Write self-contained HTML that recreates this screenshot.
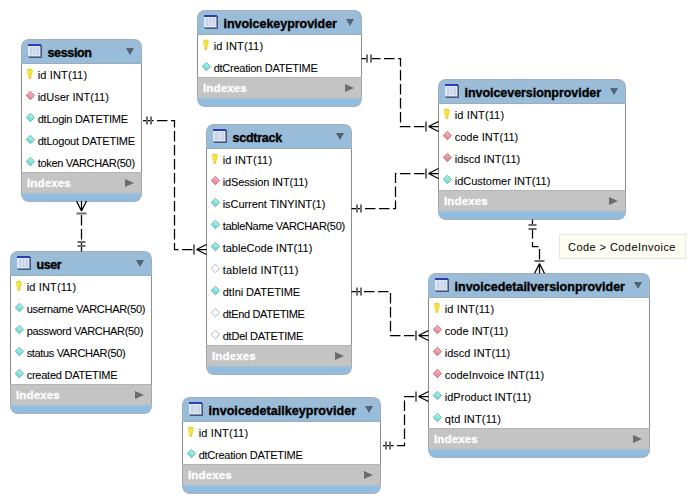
<!DOCTYPE html>
<html><head><meta charset="utf-8"><style>
html,body{margin:0;padding:0;background:#fff;}
body{width:695px;height:503px;position:relative;overflow:hidden;font-family:"Liberation Sans",sans-serif;}
.tb{position:absolute;box-sizing:border-box;}
.hd{position:absolute;left:0;right:0;top:0;height:25px;box-sizing:border-box;background:linear-gradient(#9dbcd6,#95bddc);border:1px solid #9eb0c0;border-bottom:1px solid #a2aab2;border-radius:8px 8px 0 0;}
.hd b{position:absolute;left:25.5px;top:6px;-webkit-text-stroke:0.35px #000;font-size:12.5px;font-weight:bold;color:#000;white-space:nowrap;}
.ti{position:absolute;left:6px;top:4px;}
.dn{position:absolute;right:7px;top:8px;width:0;height:0;border-left:4px solid transparent;border-right:4px solid transparent;border-top:7px solid #526272;}
.bd{position:absolute;left:0;right:0;background:#fff;box-sizing:border-box;border-left:1px solid #8c8c8c;border-right:1px solid #8c8c8c;}
.row{position:relative;height:22px;font-size:11px;color:#000;white-space:nowrap;-webkit-text-stroke:0.07px #000;}
.row span{position:absolute;left:15.7px;top:5px;}
.ic{position:absolute;left:4px;top:5px;}
.ic.ky{left:4px;top:3.5px;}
.ix{position:absolute;left:0;right:0;height:19px;background:#c4c4c4;color:#fff;font-weight:bold;font-size:11.5px;box-sizing:border-box;padding:4px 0 0 5px;border-top:1px solid #b4b4b4;border-left:1px solid #a6a6a6;border-right:1px solid #a6a6a6;letter-spacing:0.15px;-webkit-text-stroke:0.3px #fff;}
.rt{position:absolute;right:7px;top:5.5px;width:0;height:0;border-top:4.5px solid transparent;border-bottom:4.5px solid transparent;border-left:9px solid #6c6c6c;}
.ft{position:absolute;left:0;right:0;bottom:0;height:11px;box-sizing:border-box;border:1px solid #a2b2c2;border-top:0;border-radius:0 0 8px 8px;background:linear-gradient(#c6c4be 0px,#b8c2c8 2px,#94bee0 3.5px,#8ebde0 7.5px,#9cbad4 10px);}
.note{position:absolute;left:559px;top:234px;width:127px;height:25px;box-sizing:border-box;background:#fdfdf3;border:1px solid #e6e6dc;font-size:11px;padding:6px 0 0 8px;white-space:nowrap;letter-spacing:0.44px;}
svg.ov{position:absolute;left:0;top:0;}
</style></head><body>
<svg width="0" height="0" style="position:absolute"><defs><linearGradient id="gfk" x1="0.7" y1="0" x2="0.3" y2="1"><stop offset="0" stop-color="#fbbcc6"/><stop offset="1" stop-color="#e27c8a"/></linearGradient><linearGradient id="gfk2" x1="0.7" y1="0" x2="0.3" y2="1"><stop offset="0" stop-color="#f0b4b4"/><stop offset="1" stop-color="#cc8080"/></linearGradient><linearGradient id="gnn" x1="0.7" y1="0" x2="0.3" y2="1"><stop offset="0" stop-color="#b4f8f0"/><stop offset="1" stop-color="#5cd8cc"/></linearGradient></defs></svg><div class="tb" style="left:21px;top:39px;width:121px;height:163px">
<div class="hd"><svg class="ti" width="14" height="14" viewBox="0 0 14 14"><rect x="1" y="1" width="13" height="13" fill="#4c5478"/><rect x="0" y="0" width="13" height="13" fill="#dfe8f6"/><rect x="0" y="0" width="13" height="2" fill="#2c3cb4"/><rect x="2" y="3" width="9" height="8" fill="#c4d2e6"/><path d="M5 3V11M8 3V11" stroke="#e8f0fa" stroke-width="1"/><rect x="12" y="2" width="1" height="11" fill="#8890b0"/><rect x="0" y="12" width="13" height="1" fill="#8890b0"/></svg><b style="letter-spacing:-0.35px">session</b><span class="dn"></span></div>
<div class="bd" style="top:25px;height:108px"><div class="row"><svg class="ic ky" width="10" height="12" viewBox="0 0 10 12"><defs><linearGradient id="kg" x1="0" y1="0" x2="0" y2="1"><stop offset="0" stop-color="#cad850"/><stop offset="0.3" stop-color="#f6e23c"/><stop offset="0.75" stop-color="#f6d22e"/><stop offset="1" stop-color="#eec030"/></linearGradient></defs><path d="M0.8 3.2 Q0.8 0.6 3.8 0.6 Q6.9 0.6 6.9 3.2 Q6.9 5 5.7 7 L5.1 10.2 Q3.8 11.6 2.5 10.2 L1.9 7 Q0.8 5 0.8 3.2Z" fill="url(#kg)"/><path d="M2.6 3 Q2.8 6 3.4 9" stroke="#fff690" stroke-width="1" fill="none" opacity="0.7"/></svg><span style="letter-spacing:0.142px">id INT(11)</span></div><div class="row"><svg class="ic" width="10" height="10" viewBox="0 0 10 10"><path d="M4.4 0.3 L8.6 4.5 L4.4 8.7 L0.2 4.5Z" fill="url(#gfk)" stroke="#b06674" stroke-width="0.8"/></svg><span style="letter-spacing:-0.012px">idUser INT(11)</span></div><div class="row"><svg class="ic" width="10" height="10" viewBox="0 0 10 10"><path d="M4.4 0.3 L8.6 4.5 L4.4 8.7 L0.2 4.5Z" fill="url(#gnn)" stroke="#62a0a0" stroke-width="0.8"/></svg><span style="letter-spacing:-0.24px">dtLogin DATETIME</span></div><div class="row"><svg class="ic" width="10" height="10" viewBox="0 0 10 10"><path d="M4.4 0.3 L8.6 4.5 L4.4 8.7 L0.2 4.5Z" fill="url(#gnn)" stroke="#62a0a0" stroke-width="0.8"/></svg><span style="letter-spacing:-0.202px">dtLogout DATETIME</span></div><div class="row"><svg class="ic" width="10" height="10" viewBox="0 0 10 10"><path d="M4.4 0.3 L8.6 4.5 L4.4 8.7 L0.2 4.5Z" fill="url(#gnn)" stroke="#62a0a0" stroke-width="0.8"/></svg><span style="letter-spacing:-0.319px">token VARCHAR(50)</span></div></div>
<div class="ix" style="top:133px">Indexes<span class="rt"></span></div>
<div class="ft"></div></div>
<div class="tb" style="left:197px;top:10px;width:165px;height:97px">
<div class="hd"><svg class="ti" width="14" height="14" viewBox="0 0 14 14"><rect x="1" y="1" width="13" height="13" fill="#4c5478"/><rect x="0" y="0" width="13" height="13" fill="#dfe8f6"/><rect x="0" y="0" width="13" height="2" fill="#2c3cb4"/><rect x="2" y="3" width="9" height="8" fill="#c4d2e6"/><path d="M5 3V11M8 3V11" stroke="#e8f0fa" stroke-width="1"/><rect x="12" y="2" width="1" height="11" fill="#8890b0"/><rect x="0" y="12" width="13" height="1" fill="#8890b0"/></svg><b style="letter-spacing:-0.028px">invoicekeyprovider</b><span class="dn"></span></div>
<div class="bd" style="top:25px;height:42px"><div class="row"><svg class="ic ky" width="10" height="12" viewBox="0 0 10 12"><defs><linearGradient id="kg" x1="0" y1="0" x2="0" y2="1"><stop offset="0" stop-color="#cad850"/><stop offset="0.3" stop-color="#f6e23c"/><stop offset="0.75" stop-color="#f6d22e"/><stop offset="1" stop-color="#eec030"/></linearGradient></defs><path d="M0.8 3.2 Q0.8 0.6 3.8 0.6 Q6.9 0.6 6.9 3.2 Q6.9 5 5.7 7 L5.1 10.2 Q3.8 11.6 2.5 10.2 L1.9 7 Q0.8 5 0.8 3.2Z" fill="url(#kg)"/><path d="M2.6 3 Q2.8 6 3.4 9" stroke="#fff690" stroke-width="1" fill="none" opacity="0.7"/></svg><span style="letter-spacing:0.142px">id INT(11)</span></div><div class="row"><svg class="ic" width="10" height="10" viewBox="0 0 10 10"><path d="M4.4 0.3 L8.6 4.5 L4.4 8.7 L0.2 4.5Z" fill="url(#gnn)" stroke="#62a0a0" stroke-width="0.8"/></svg><span style="letter-spacing:-0.251px">dtCreation DATETIME</span></div></div>
<div class="ix" style="top:67px">Indexes<span class="rt"></span></div>
<div class="ft"></div></div>
<div class="tb" style="left:438px;top:79px;width:188px;height:141px">
<div class="hd"><svg class="ti" width="14" height="14" viewBox="0 0 14 14"><rect x="1" y="1" width="13" height="13" fill="#4c5478"/><rect x="0" y="0" width="13" height="13" fill="#dfe8f6"/><rect x="0" y="0" width="13" height="2" fill="#2c3cb4"/><rect x="2" y="3" width="9" height="8" fill="#c4d2e6"/><path d="M5 3V11M8 3V11" stroke="#e8f0fa" stroke-width="1"/><rect x="12" y="2" width="1" height="11" fill="#8890b0"/><rect x="0" y="12" width="13" height="1" fill="#8890b0"/></svg><b style="letter-spacing:-0.048px">invoiceversionprovider</b><span class="dn"></span></div>
<div class="bd" style="top:25px;height:86px"><div class="row"><svg class="ic ky" width="10" height="12" viewBox="0 0 10 12"><defs><linearGradient id="kg" x1="0" y1="0" x2="0" y2="1"><stop offset="0" stop-color="#cad850"/><stop offset="0.3" stop-color="#f6e23c"/><stop offset="0.75" stop-color="#f6d22e"/><stop offset="1" stop-color="#eec030"/></linearGradient></defs><path d="M0.8 3.2 Q0.8 0.6 3.8 0.6 Q6.9 0.6 6.9 3.2 Q6.9 5 5.7 7 L5.1 10.2 Q3.8 11.6 2.5 10.2 L1.9 7 Q0.8 5 0.8 3.2Z" fill="url(#kg)"/><path d="M2.6 3 Q2.8 6 3.4 9" stroke="#fff690" stroke-width="1" fill="none" opacity="0.7"/></svg><span style="letter-spacing:0.142px">id INT(11)</span></div><div class="row"><svg class="ic" width="10" height="10" viewBox="0 0 10 10"><path d="M4.4 0.3 L8.6 4.5 L4.4 8.7 L0.2 4.5Z" fill="url(#gfk)" stroke="#b06674" stroke-width="0.8"/></svg><span style="letter-spacing:0.02px">code INT(11)</span></div><div class="row"><svg class="ic" width="10" height="10" viewBox="0 0 10 10"><path d="M4.4 0.3 L8.6 4.5 L4.4 8.7 L0.2 4.5Z" fill="url(#gfk2)" stroke="#a07468" stroke-width="0.8"/></svg><span style="letter-spacing:0.029px">idscd INT(11)</span></div><div class="row"><svg class="ic" width="10" height="10" viewBox="0 0 10 10"><path d="M4.4 0.3 L8.6 4.5 L4.4 8.7 L0.2 4.5Z" fill="url(#gnn)" stroke="#62a0a0" stroke-width="0.8"/></svg><span style="letter-spacing:-0.003px">idCustomer INT(11)</span></div></div>
<div class="ix" style="top:111px">Indexes<span class="rt"></span></div>
<div class="ft"></div></div>
<div class="tb" style="left:206px;top:124px;width:146px;height:251px">
<div class="hd"><svg class="ti" width="14" height="14" viewBox="0 0 14 14"><rect x="1" y="1" width="13" height="13" fill="#4c5478"/><rect x="0" y="0" width="13" height="13" fill="#dfe8f6"/><rect x="0" y="0" width="13" height="2" fill="#2c3cb4"/><rect x="2" y="3" width="9" height="8" fill="#c4d2e6"/><path d="M5 3V11M8 3V11" stroke="#e8f0fa" stroke-width="1"/><rect x="12" y="2" width="1" height="11" fill="#8890b0"/><rect x="0" y="12" width="13" height="1" fill="#8890b0"/></svg><b style="letter-spacing:-0.257px">scdtrack</b><span class="dn"></span></div>
<div class="bd" style="top:25px;height:196px"><div class="row"><svg class="ic ky" width="10" height="12" viewBox="0 0 10 12"><defs><linearGradient id="kg" x1="0" y1="0" x2="0" y2="1"><stop offset="0" stop-color="#cad850"/><stop offset="0.3" stop-color="#f6e23c"/><stop offset="0.75" stop-color="#f6d22e"/><stop offset="1" stop-color="#eec030"/></linearGradient></defs><path d="M0.8 3.2 Q0.8 0.6 3.8 0.6 Q6.9 0.6 6.9 3.2 Q6.9 5 5.7 7 L5.1 10.2 Q3.8 11.6 2.5 10.2 L1.9 7 Q0.8 5 0.8 3.2Z" fill="url(#kg)"/><path d="M2.6 3 Q2.8 6 3.4 9" stroke="#fff690" stroke-width="1" fill="none" opacity="0.7"/></svg><span style="letter-spacing:0.142px">id INT(11)</span></div><div class="row"><svg class="ic" width="10" height="10" viewBox="0 0 10 10"><path d="M4.4 0.3 L8.6 4.5 L4.4 8.7 L0.2 4.5Z" fill="url(#gfk)" stroke="#b06674" stroke-width="0.8"/></svg><span style="letter-spacing:-0.128px">idSession INT(11)</span></div><div class="row"><svg class="ic" width="10" height="10" viewBox="0 0 10 10"><path d="M4.4 0.3 L8.6 4.5 L4.4 8.7 L0.2 4.5Z" fill="url(#gnn)" stroke="#62a0a0" stroke-width="0.8"/></svg><span style="letter-spacing:-0.055px">isCurrent TINYINT(1)</span></div><div class="row"><svg class="ic" width="10" height="10" viewBox="0 0 10 10"><path d="M4.4 0.3 L8.6 4.5 L4.4 8.7 L0.2 4.5Z" fill="url(#gnn)" stroke="#62a0a0" stroke-width="0.8"/></svg><span style="letter-spacing:-0.317px">tableName VARCHAR(50)</span></div><div class="row"><svg class="ic" width="10" height="10" viewBox="0 0 10 10"><path d="M4.4 0.3 L8.6 4.5 L4.4 8.7 L0.2 4.5Z" fill="url(#gnn)" stroke="#62a0a0" stroke-width="0.8"/></svg><span style="letter-spacing:-0.002px">tableCode INT(11)</span></div><div class="row"><svg class="ic" width="10" height="10" viewBox="0 0 10 10"><path d="M4.4 0.3 L8.6 4.5 L4.4 8.7 L0.2 4.5Z" fill="#fff" stroke="#a2b4ac" stroke-width="0.9"/></svg><span style="letter-spacing:0.221px">tableId INT(11)</span></div><div class="row"><svg class="ic" width="10" height="10" viewBox="0 0 10 10"><path d="M4.4 0.3 L8.6 4.5 L4.4 8.7 L0.2 4.5Z" fill="url(#gnn)" stroke="#62a0a0" stroke-width="0.8"/></svg><span style="letter-spacing:-0.087px">dtIni DATETIME</span></div><div class="row"><svg class="ic" width="10" height="10" viewBox="0 0 10 10"><path d="M4.4 0.3 L8.6 4.5 L4.4 8.7 L0.2 4.5Z" fill="#fff" stroke="#a2b4ac" stroke-width="0.9"/></svg><span style="letter-spacing:-0.333px">dtEnd DATETIME</span></div><div class="row"><svg class="ic" width="10" height="10" viewBox="0 0 10 10"><path d="M4.4 0.3 L8.6 4.5 L4.4 8.7 L0.2 4.5Z" fill="#fff" stroke="#a2b4ac" stroke-width="0.9"/></svg><span style="letter-spacing:-0.223px">dtDel DATETIME</span></div></div>
<div class="ix" style="top:221px">Indexes<span class="rt"></span></div>
<div class="ft"></div></div>
<div class="tb" style="left:10px;top:251px;width:142px;height:163px">
<div class="hd"><svg class="ti" width="14" height="14" viewBox="0 0 14 14"><rect x="1" y="1" width="13" height="13" fill="#4c5478"/><rect x="0" y="0" width="13" height="13" fill="#dfe8f6"/><rect x="0" y="0" width="13" height="2" fill="#2c3cb4"/><rect x="2" y="3" width="9" height="8" fill="#c4d2e6"/><path d="M5 3V11M8 3V11" stroke="#e8f0fa" stroke-width="1"/><rect x="12" y="2" width="1" height="11" fill="#8890b0"/><rect x="0" y="12" width="13" height="1" fill="#8890b0"/></svg><b style="letter-spacing:-0.392px">user</b><span class="dn"></span></div>
<div class="bd" style="top:25px;height:108px"><div class="row"><svg class="ic ky" width="10" height="12" viewBox="0 0 10 12"><defs><linearGradient id="kg" x1="0" y1="0" x2="0" y2="1"><stop offset="0" stop-color="#cad850"/><stop offset="0.3" stop-color="#f6e23c"/><stop offset="0.75" stop-color="#f6d22e"/><stop offset="1" stop-color="#eec030"/></linearGradient></defs><path d="M0.8 3.2 Q0.8 0.6 3.8 0.6 Q6.9 0.6 6.9 3.2 Q6.9 5 5.7 7 L5.1 10.2 Q3.8 11.6 2.5 10.2 L1.9 7 Q0.8 5 0.8 3.2Z" fill="url(#kg)"/><path d="M2.6 3 Q2.8 6 3.4 9" stroke="#fff690" stroke-width="1" fill="none" opacity="0.7"/></svg><span style="letter-spacing:0.142px">id INT(11)</span></div><div class="row"><svg class="ic" width="10" height="10" viewBox="0 0 10 10"><path d="M4.4 0.3 L8.6 4.5 L4.4 8.7 L0.2 4.5Z" fill="url(#gnn)" stroke="#62a0a0" stroke-width="0.8"/></svg><span style="letter-spacing:-0.3px">username VARCHAR(50)</span></div><div class="row"><svg class="ic" width="10" height="10" viewBox="0 0 10 10"><path d="M4.4 0.3 L8.6 4.5 L4.4 8.7 L0.2 4.5Z" fill="url(#gnn)" stroke="#62a0a0" stroke-width="0.8"/></svg><span style="letter-spacing:-0.317px">password VARCHAR(50)</span></div><div class="row"><svg class="ic" width="10" height="10" viewBox="0 0 10 10"><path d="M4.4 0.3 L8.6 4.5 L4.4 8.7 L0.2 4.5Z" fill="url(#gnn)" stroke="#62a0a0" stroke-width="0.8"/></svg><span style="letter-spacing:-0.347px">status VARCHAR(50)</span></div><div class="row"><svg class="ic" width="10" height="10" viewBox="0 0 10 10"><path d="M4.4 0.3 L8.6 4.5 L4.4 8.7 L0.2 4.5Z" fill="url(#gnn)" stroke="#62a0a0" stroke-width="0.8"/></svg><span style="letter-spacing:-0.247px">created DATETIME</span></div></div>
<div class="ix" style="top:133px">Indexes<span class="rt"></span></div>
<div class="ft"></div></div>
<div class="tb" style="left:428px;top:273px;width:222px;height:185px">
<div class="hd"><svg class="ti" width="14" height="14" viewBox="0 0 14 14"><rect x="1" y="1" width="13" height="13" fill="#4c5478"/><rect x="0" y="0" width="13" height="13" fill="#dfe8f6"/><rect x="0" y="0" width="13" height="2" fill="#2c3cb4"/><rect x="2" y="3" width="9" height="8" fill="#c4d2e6"/><path d="M5 3V11M8 3V11" stroke="#e8f0fa" stroke-width="1"/><rect x="12" y="2" width="1" height="11" fill="#8890b0"/><rect x="0" y="12" width="13" height="1" fill="#8890b0"/></svg><b style="letter-spacing:0.01px">invoicedetailversionprovider</b><span class="dn"></span></div>
<div class="bd" style="top:25px;height:130px"><div class="row"><svg class="ic ky" width="10" height="12" viewBox="0 0 10 12"><defs><linearGradient id="kg" x1="0" y1="0" x2="0" y2="1"><stop offset="0" stop-color="#cad850"/><stop offset="0.3" stop-color="#f6e23c"/><stop offset="0.75" stop-color="#f6d22e"/><stop offset="1" stop-color="#eec030"/></linearGradient></defs><path d="M0.8 3.2 Q0.8 0.6 3.8 0.6 Q6.9 0.6 6.9 3.2 Q6.9 5 5.7 7 L5.1 10.2 Q3.8 11.6 2.5 10.2 L1.9 7 Q0.8 5 0.8 3.2Z" fill="url(#kg)"/><path d="M2.6 3 Q2.8 6 3.4 9" stroke="#fff690" stroke-width="1" fill="none" opacity="0.7"/></svg><span style="letter-spacing:0.142px">id INT(11)</span></div><div class="row"><svg class="ic" width="10" height="10" viewBox="0 0 10 10"><path d="M4.4 0.3 L8.6 4.5 L4.4 8.7 L0.2 4.5Z" fill="url(#gfk)" stroke="#b06674" stroke-width="0.8"/></svg><span style="letter-spacing:0.02px">code INT(11)</span></div><div class="row"><svg class="ic" width="10" height="10" viewBox="0 0 10 10"><path d="M4.4 0.3 L8.6 4.5 L4.4 8.7 L0.2 4.5Z" fill="url(#gfk)" stroke="#b06674" stroke-width="0.8"/></svg><span style="letter-spacing:0.029px">idscd INT(11)</span></div><div class="row"><svg class="ic" width="10" height="10" viewBox="0 0 10 10"><path d="M4.4 0.3 L8.6 4.5 L4.4 8.7 L0.2 4.5Z" fill="url(#gfk)" stroke="#b06674" stroke-width="0.8"/></svg><span style="letter-spacing:0.064px">codeInvoice INT(11)</span></div><div class="row"><svg class="ic" width="10" height="10" viewBox="0 0 10 10"><path d="M4.4 0.3 L8.6 4.5 L4.4 8.7 L0.2 4.5Z" fill="url(#gnn)" stroke="#62a0a0" stroke-width="0.8"/></svg><span style="letter-spacing:0.037px">idProduct INT(11)</span></div><div class="row"><svg class="ic" width="10" height="10" viewBox="0 0 10 10"><path d="M4.4 0.3 L8.6 4.5 L4.4 8.7 L0.2 4.5Z" fill="url(#gnn)" stroke="#62a0a0" stroke-width="0.8"/></svg><span style="letter-spacing:0.152px">qtd INT(11)</span></div></div>
<div class="ix" style="top:155px">Indexes<span class="rt"></span></div>
<div class="ft"></div></div>
<div class="tb" style="left:182px;top:397px;width:199px;height:97px">
<div class="hd"><svg class="ti" width="14" height="14" viewBox="0 0 14 14"><rect x="1" y="1" width="13" height="13" fill="#4c5478"/><rect x="0" y="0" width="13" height="13" fill="#dfe8f6"/><rect x="0" y="0" width="13" height="2" fill="#2c3cb4"/><rect x="2" y="3" width="9" height="8" fill="#c4d2e6"/><path d="M5 3V11M8 3V11" stroke="#e8f0fa" stroke-width="1"/><rect x="12" y="2" width="1" height="11" fill="#8890b0"/><rect x="0" y="12" width="13" height="1" fill="#8890b0"/></svg><b style="letter-spacing:0.042px">invoicedetailkeyprovider</b><span class="dn"></span></div>
<div class="bd" style="top:25px;height:42px"><div class="row"><svg class="ic ky" width="10" height="12" viewBox="0 0 10 12"><defs><linearGradient id="kg" x1="0" y1="0" x2="0" y2="1"><stop offset="0" stop-color="#cad850"/><stop offset="0.3" stop-color="#f6e23c"/><stop offset="0.75" stop-color="#f6d22e"/><stop offset="1" stop-color="#eec030"/></linearGradient></defs><path d="M0.8 3.2 Q0.8 0.6 3.8 0.6 Q6.9 0.6 6.9 3.2 Q6.9 5 5.7 7 L5.1 10.2 Q3.8 11.6 2.5 10.2 L1.9 7 Q0.8 5 0.8 3.2Z" fill="url(#kg)"/><path d="M2.6 3 Q2.8 6 3.4 9" stroke="#fff690" stroke-width="1" fill="none" opacity="0.7"/></svg><span style="letter-spacing:0.142px">id INT(11)</span></div><div class="row"><svg class="ic" width="10" height="10" viewBox="0 0 10 10"><path d="M4.4 0.3 L8.6 4.5 L4.4 8.7 L0.2 4.5Z" fill="url(#gnn)" stroke="#62a0a0" stroke-width="0.8"/></svg><span style="letter-spacing:-0.251px">dtCreation DATETIME</span></div></div>
<div class="ix" style="top:67px">Indexes<span class="rt"></span></div>
<div class="ft"></div></div>
<div class="note">Code &gt; CodeInvoice</div>
<svg class="ov" width="695" height="503" viewBox="0 0 695 503"><path d="M192.5 249.5 L174.5 249.5 L174.5 120.5 L141.5 120.5" stroke="#000" stroke-width="1.25" fill="none" stroke-dasharray="10.5 3.5"/><path d="M147.0 116.5 L147.0 124.5 M151.0 116.5 L151.0 124.5" stroke="#6e6e6e" stroke-width="2" fill="none"/><path d="M194.0 254.5 L194.0 244.5" stroke="#6e6e6e" stroke-width="2" fill="none"/><path d="M196.5 249.5 L206.5 249.5 M196.5 249.5 L206.5 254.5 M196.5 249.5 L206.5 244.5" stroke="#000" stroke-width="1.25" fill="none"/><path d="M81.5 215 L81.5 251.5" stroke="#000" stroke-width="1.25" fill="none" stroke-dasharray="10.5 3.5"/><path d="M85.5 246.0 L77.5 246.0 M85.5 242.0 L77.5 242.0" stroke="#6e6e6e" stroke-width="2" fill="none"/><path d="M76.5 213.5 L86.5 213.5" stroke="#6e6e6e" stroke-width="2" fill="none"/><path d="M81.5 211 L81.5 201 M81.5 211 L76.5 201 M81.5 211 L86.5 201" stroke="#000" stroke-width="1.25" fill="none"/><path d="M424.5 126.5 L400.5 126.5 L400.5 58.5 L361.5 58.5" stroke="#000" stroke-width="1.25" fill="none" stroke-dasharray="10.5 3.5"/><path d="M367.0 54.5 L367.0 62.5 M371.0 54.5 L371.0 62.5" stroke="#6e6e6e" stroke-width="2" fill="none"/><path d="M426.0 131.5 L426.0 121.5" stroke="#6e6e6e" stroke-width="2" fill="none"/><path d="M428.5 126.5 L438.5 126.5 M428.5 126.5 L438.5 131.5 M428.5 126.5 L438.5 121.5" stroke="#000" stroke-width="1.25" fill="none"/><path d="M424.5 173.5 L395.5 173.5 L395.5 208.5 L351.5 208.5" stroke="#000" stroke-width="1.25" fill="none" stroke-dasharray="10.5 3.5"/><path d="M357.0 204.5 L357.0 212.5 M361.0 204.5 L361.0 212.5" stroke="#6e6e6e" stroke-width="2" fill="none"/><path d="M426.0 178.5 L426.0 168.5" stroke="#6e6e6e" stroke-width="2" fill="none"/><path d="M428.5 173.5 L438.5 173.5 M428.5 173.5 L438.5 178.5 M428.5 173.5 L438.5 168.5" stroke="#000" stroke-width="1.25" fill="none"/><path d="M539.5 259.5 L539.5 246.5 L532.5 246.5 L532.5 219.5" stroke="#000" stroke-width="1.25" fill="none" stroke-dasharray="10.5 3.5"/><path d="M528.5 225.0 L536.5 225.0 M528.5 229.0 L536.5 229.0" stroke="#6e6e6e" stroke-width="2" fill="none"/><path d="M544.5 261.0 L534.5 261.0" stroke="#6e6e6e" stroke-width="2" fill="none"/><path d="M539.5 263.5 L539.5 273.5 M539.5 263.5 L544.5 273.5 M539.5 263.5 L534.5 273.5" stroke="#000" stroke-width="1.25" fill="none"/><path d="M414.5 335.5 L390.5 335.5 L390.5 291.5 L351.5 291.5" stroke="#000" stroke-width="1.25" fill="none" stroke-dasharray="10.5 3.5"/><path d="M357.0 287.5 L357.0 295.5 M361.0 287.5 L361.0 295.5" stroke="#6e6e6e" stroke-width="2" fill="none"/><path d="M416.0 340.5 L416.0 330.5" stroke="#6e6e6e" stroke-width="2" fill="none"/><path d="M418.5 335.5 L428.5 335.5 M418.5 335.5 L428.5 340.5 M418.5 335.5 L428.5 330.5" stroke="#000" stroke-width="1.25" fill="none"/><path d="M414.5 396.5 L404.5 396.5 L404.5 445.5 L380.5 445.5" stroke="#000" stroke-width="1.25" fill="none" stroke-dasharray="10.5 3.5"/><path d="M386.0 441.5 L386.0 449.5 M390.0 441.5 L390.0 449.5" stroke="#6e6e6e" stroke-width="2" fill="none"/><path d="M416.0 401.5 L416.0 391.5" stroke="#6e6e6e" stroke-width="2" fill="none"/><path d="M418.5 396.5 L428.5 396.5 M418.5 396.5 L428.5 401.5 M418.5 396.5 L428.5 391.5" stroke="#000" stroke-width="1.25" fill="none"/></svg>
</body></html>
